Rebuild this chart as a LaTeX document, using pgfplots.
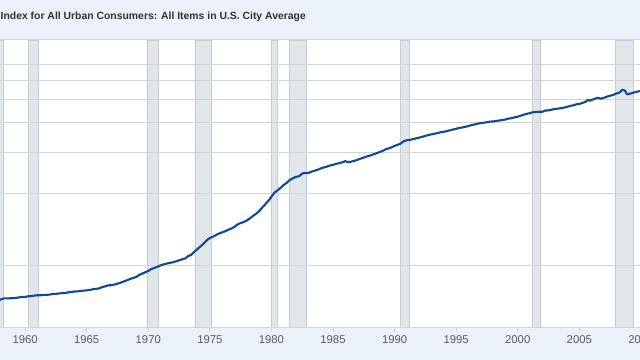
\documentclass[border=0pt]{standalone}
\usepackage{pgfplots}
\usepackage{pgfplotstable}
\pgfplotsset{compat=1.18}
\usepackage{fontspec}
\setmainfont{Liberation Sans}
\definecolor{bgblue}{RGB}{234,241,248}
\definecolor{recfill}{RGB}{225,230,235}
\definecolor{recedge}{RGB}{200,204,209}
\definecolor{gridc}{RGB}{212,212,212}
\definecolor{linec}{RGB}{16,72,150}
\definecolor{titlec}{RGB}{51,51,51}
\definecolor{tickc}{RGB}{90,90,90}

\pgfplotstableread{
x y
1957.75 28.32
1958.00 28.61
1958.25 28.93
1958.50 28.94
1958.75 28.97
1959.00 29.01
1959.25 29.08
1959.50 29.21
1959.75 29.38
1960.00 29.37
1960.25 29.54
1960.50 29.57
1960.75 29.75
1961.00 29.84
1961.25 29.84
1961.50 29.92
1961.75 29.94
1962.00 30.04
1962.25 30.21
1962.50 30.24
1962.75 30.36
1963.00 30.44
1963.25 30.48
1963.50 30.69
1963.75 30.80
1964.00 30.94
1964.25 30.99
1964.50 31.11
1964.75 31.20
1965.00 31.28
1965.25 31.42
1965.50 31.62
1965.75 31.75
1966.00 31.88
1966.25 32.28
1966.50 32.54
1966.75 32.86
1967.00 32.90
1967.25 33.10
1967.50 33.40
1967.75 33.70
1968.00 34.10
1968.25 34.50
1968.50 34.90
1968.75 35.30
1969.00 35.60
1969.25 36.30
1969.50 36.80
1969.75 37.30
1970.00 37.80
1970.25 38.50
1970.50 38.90
1970.75 39.40
1971.00 39.90
1971.25 40.30
1971.50 40.60
1971.75 40.90
1972.00 41.10
1972.25 41.50
1972.50 41.90
1972.75 42.30
1973.00 42.70
1973.25 43.70
1973.50 44.20
1973.75 45.60
1974.00 46.80
1974.25 48.00
1974.50 49.40
1974.75 50.90
1975.00 52.10
1975.25 52.70
1975.50 53.60
1975.75 54.40
1976.00 55.00
1976.25 55.60
1976.50 56.40
1976.75 57.10
1977.00 58.00
1977.25 59.40
1977.50 60.20
1977.75 60.80
1978.00 61.70
1978.25 63.00
1978.50 64.50
1978.75 65.90
1979.00 67.60
1979.25 70.00
1979.50 72.30
1979.75 74.60
1980.00 77.80
1980.25 81.00
1980.50 82.70
1980.75 84.80
1981.00 87.20
1981.25 89.10
1981.50 91.60
1981.75 93.10
1982.00 94.40
1982.25 94.90
1982.50 97.50
1982.75 98.00
1983.00 97.90
1983.25 99.20
1983.50 100.10
1983.75 101.00
1984.00 102.40
1984.25 103.40
1984.50 104.20
1984.75 105.30
1985.00 106.00
1985.25 107.10
1985.50 107.70
1985.75 108.70
1986.00 109.90
1986.25 108.70
1986.50 109.50
1986.75 110.30
1987.00 111.40
1987.25 112.70
1987.50 113.80
1987.75 115.00
1988.00 116.00
1988.25 117.20
1988.50 118.50
1988.75 119.90
1989.00 121.20
1989.25 123.10
1989.50 124.40
1989.75 125.60
1990.00 127.50
1990.25 128.90
1990.50 130.40
1990.75 133.50
1991.00 134.70
1991.25 135.20
1991.50 136.20
1991.75 137.20
1992.00 138.10
1992.25 139.30
1992.50 140.50
1992.75 141.80
1993.00 142.60
1993.25 143.60
1993.50 144.40
1993.75 145.70
1994.00 146.20
1994.25 147.20
1994.50 148.40
1994.75 149.50
1995.00 150.50
1995.25 151.90
1995.50 152.50
1995.75 153.50
1996.00 154.70
1996.25 156.10
1996.50 157.00
1996.75 158.30
1997.00 159.10
1997.25 159.80
1997.50 160.50
1997.75 161.50
1998.00 161.60
1998.25 162.50
1998.50 163.20
1998.75 164.00
1999.00 164.70
1999.25 166.20
1999.50 166.90
1999.75 168.20
2000.00 169.30
2000.25 171.00
2000.50 172.80
2000.75 174.00
2001.00 175.60
2001.25 176.90
2001.50 177.40
2001.75 177.70
2002.00 177.70
2002.25 179.80
2002.50 180.10
2002.75 181.20
2003.00 182.60
2003.25 183.10
2003.50 183.90
2003.75 185.00
2004.00 186.30
2004.25 188.00
2004.50 189.10
2004.75 191.00
2005.00 191.60
2005.25 193.70
2005.50 195.40
2005.67 198.80
2005.75 199.20
2005.83 197.60
2006.00 199.30
2006.25 201.50
2006.50 203.50
2006.75 201.80
2007.00 203.40
2007.25 205.90
2007.50 207.60
2007.75 209.20
2008.00 212.20
2008.25 213.90
2008.42 218.00
2008.50 219.96
2008.58 219.10
2008.67 218.80
2008.75 216.60
2008.83 212.40
2008.92 210.20
2009.00 211.10
2009.25 212.70
2009.50 214.70
2009.75 216.20
2009.92 217.30
}\cpi

\begin{document}
\begin{tikzpicture}
\begin{axis}[
  at={(0bp,32bp)}, anchor=south west,
  width=640bp, height=288bp, scale only axis,
  set layers=standard, clip mode=individual,
  xmin=1957.96, xmax=2009.93,
  ymode=log, ymin=21.7, ymax=357,
  ytick={40,80,120,160,200,240,280}, yticklabels={},
  ymajorgrids, grid style={gridc, line width=1bp},
  xtick={1960,1965,1970,1975,1980,1985,1990,1995,2000,2005},
  xticklabels={1960,1965,1970,1975,1980,1985,1990,1995,2000,2005},
  xtick pos=bottom, ytick pos=left,
  tick align=outside, major tick length=4bp,
  x tick style={draw=gridc, line width=0.8bp},
  y tick style={draw=none},
  separate axis lines,
  x axis line style={draw=gridc, line width=1bp},
  y axis line style={draw=none},
  xticklabel style={anchor=center, yshift=-8bp, text=tickc,
                    font=\fontsize{11.3bp}{13bp}\selectfont},
]
\begin{pgfonlayer}{axis background}
\fill[bgblue] ([yshift=-40bp]rel axis cs:0,0) rectangle (rel axis cs:1,0);
\fill[bgblue] (rel axis cs:0,1) rectangle ([yshift=45bp]rel axis cs:1,1);
\end{pgfonlayer}
\addplot[fill=recfill, draw=recedge, line width=0.9bp, on layer=axis background] coordinates {(1957.58,21.7) (1957.58,357) (1958.25,357) (1958.25,21.7)} -- cycle;
\addplot[fill=recfill, draw=recedge, line width=0.9bp, on layer=axis background] coordinates {(1960.25,21.7) (1960.25,357) (1961.08,357) (1961.08,21.7)} -- cycle;
\addplot[fill=recfill, draw=recedge, line width=0.9bp, on layer=axis background] coordinates {(1969.92,21.7) (1969.92,357) (1970.83,357) (1970.83,21.7)} -- cycle;
\addplot[fill=recfill, draw=recedge, line width=0.9bp, on layer=axis background] coordinates {(1973.83,21.7) (1973.83,357) (1975.17,357) (1975.17,21.7)} -- cycle;
\addplot[fill=recfill, draw=recedge, line width=0.9bp, on layer=axis background] coordinates {(1980.00,21.7) (1980.00,357) (1980.50,357) (1980.50,21.7)} -- cycle;
\addplot[fill=recfill, draw=recedge, line width=0.9bp, on layer=axis background] coordinates {(1981.50,21.7) (1981.50,357) (1982.83,357) (1982.83,21.7)} -- cycle;
\addplot[fill=recfill, draw=recedge, line width=0.9bp, on layer=axis background] coordinates {(1990.50,21.7) (1990.50,357) (1991.17,357) (1991.17,21.7)} -- cycle;
\addplot[fill=recfill, draw=recedge, line width=0.9bp, on layer=axis background] coordinates {(2001.17,21.7) (2001.17,357) (2001.83,357) (2001.83,21.7)} -- cycle;
\addplot[fill=recfill, draw=recedge, line width=0.9bp, on layer=axis background] coordinates {(2007.92,21.7) (2007.92,357) (2009.42,357) (2009.42,21.7)} -- cycle;
\addplot[linec, line width=2.1bp, line join=round, mark=none] table[x=x, y=y] {\cpi};
\node[anchor=center, text=tickc, font=\fontsize{11.3bp}{13bp}\selectfont]
  at ([yshift=-12bp]axis cs:2010,21.7) {2010};
\end{axis}
\node[anchor=base west, inner sep=0, text=titlec,
      font=\fontsize{10.4bp}{12bp}\selectfont\bfseries] at (0.5bp,340bp)
  {Index for All Urban Consumers: All Items in U.S. City Average};
\pgfresetboundingbox
\useasboundingbox (0bp,0bp) rectangle (640bp,360bp);
\end{tikzpicture}
\end{document}
